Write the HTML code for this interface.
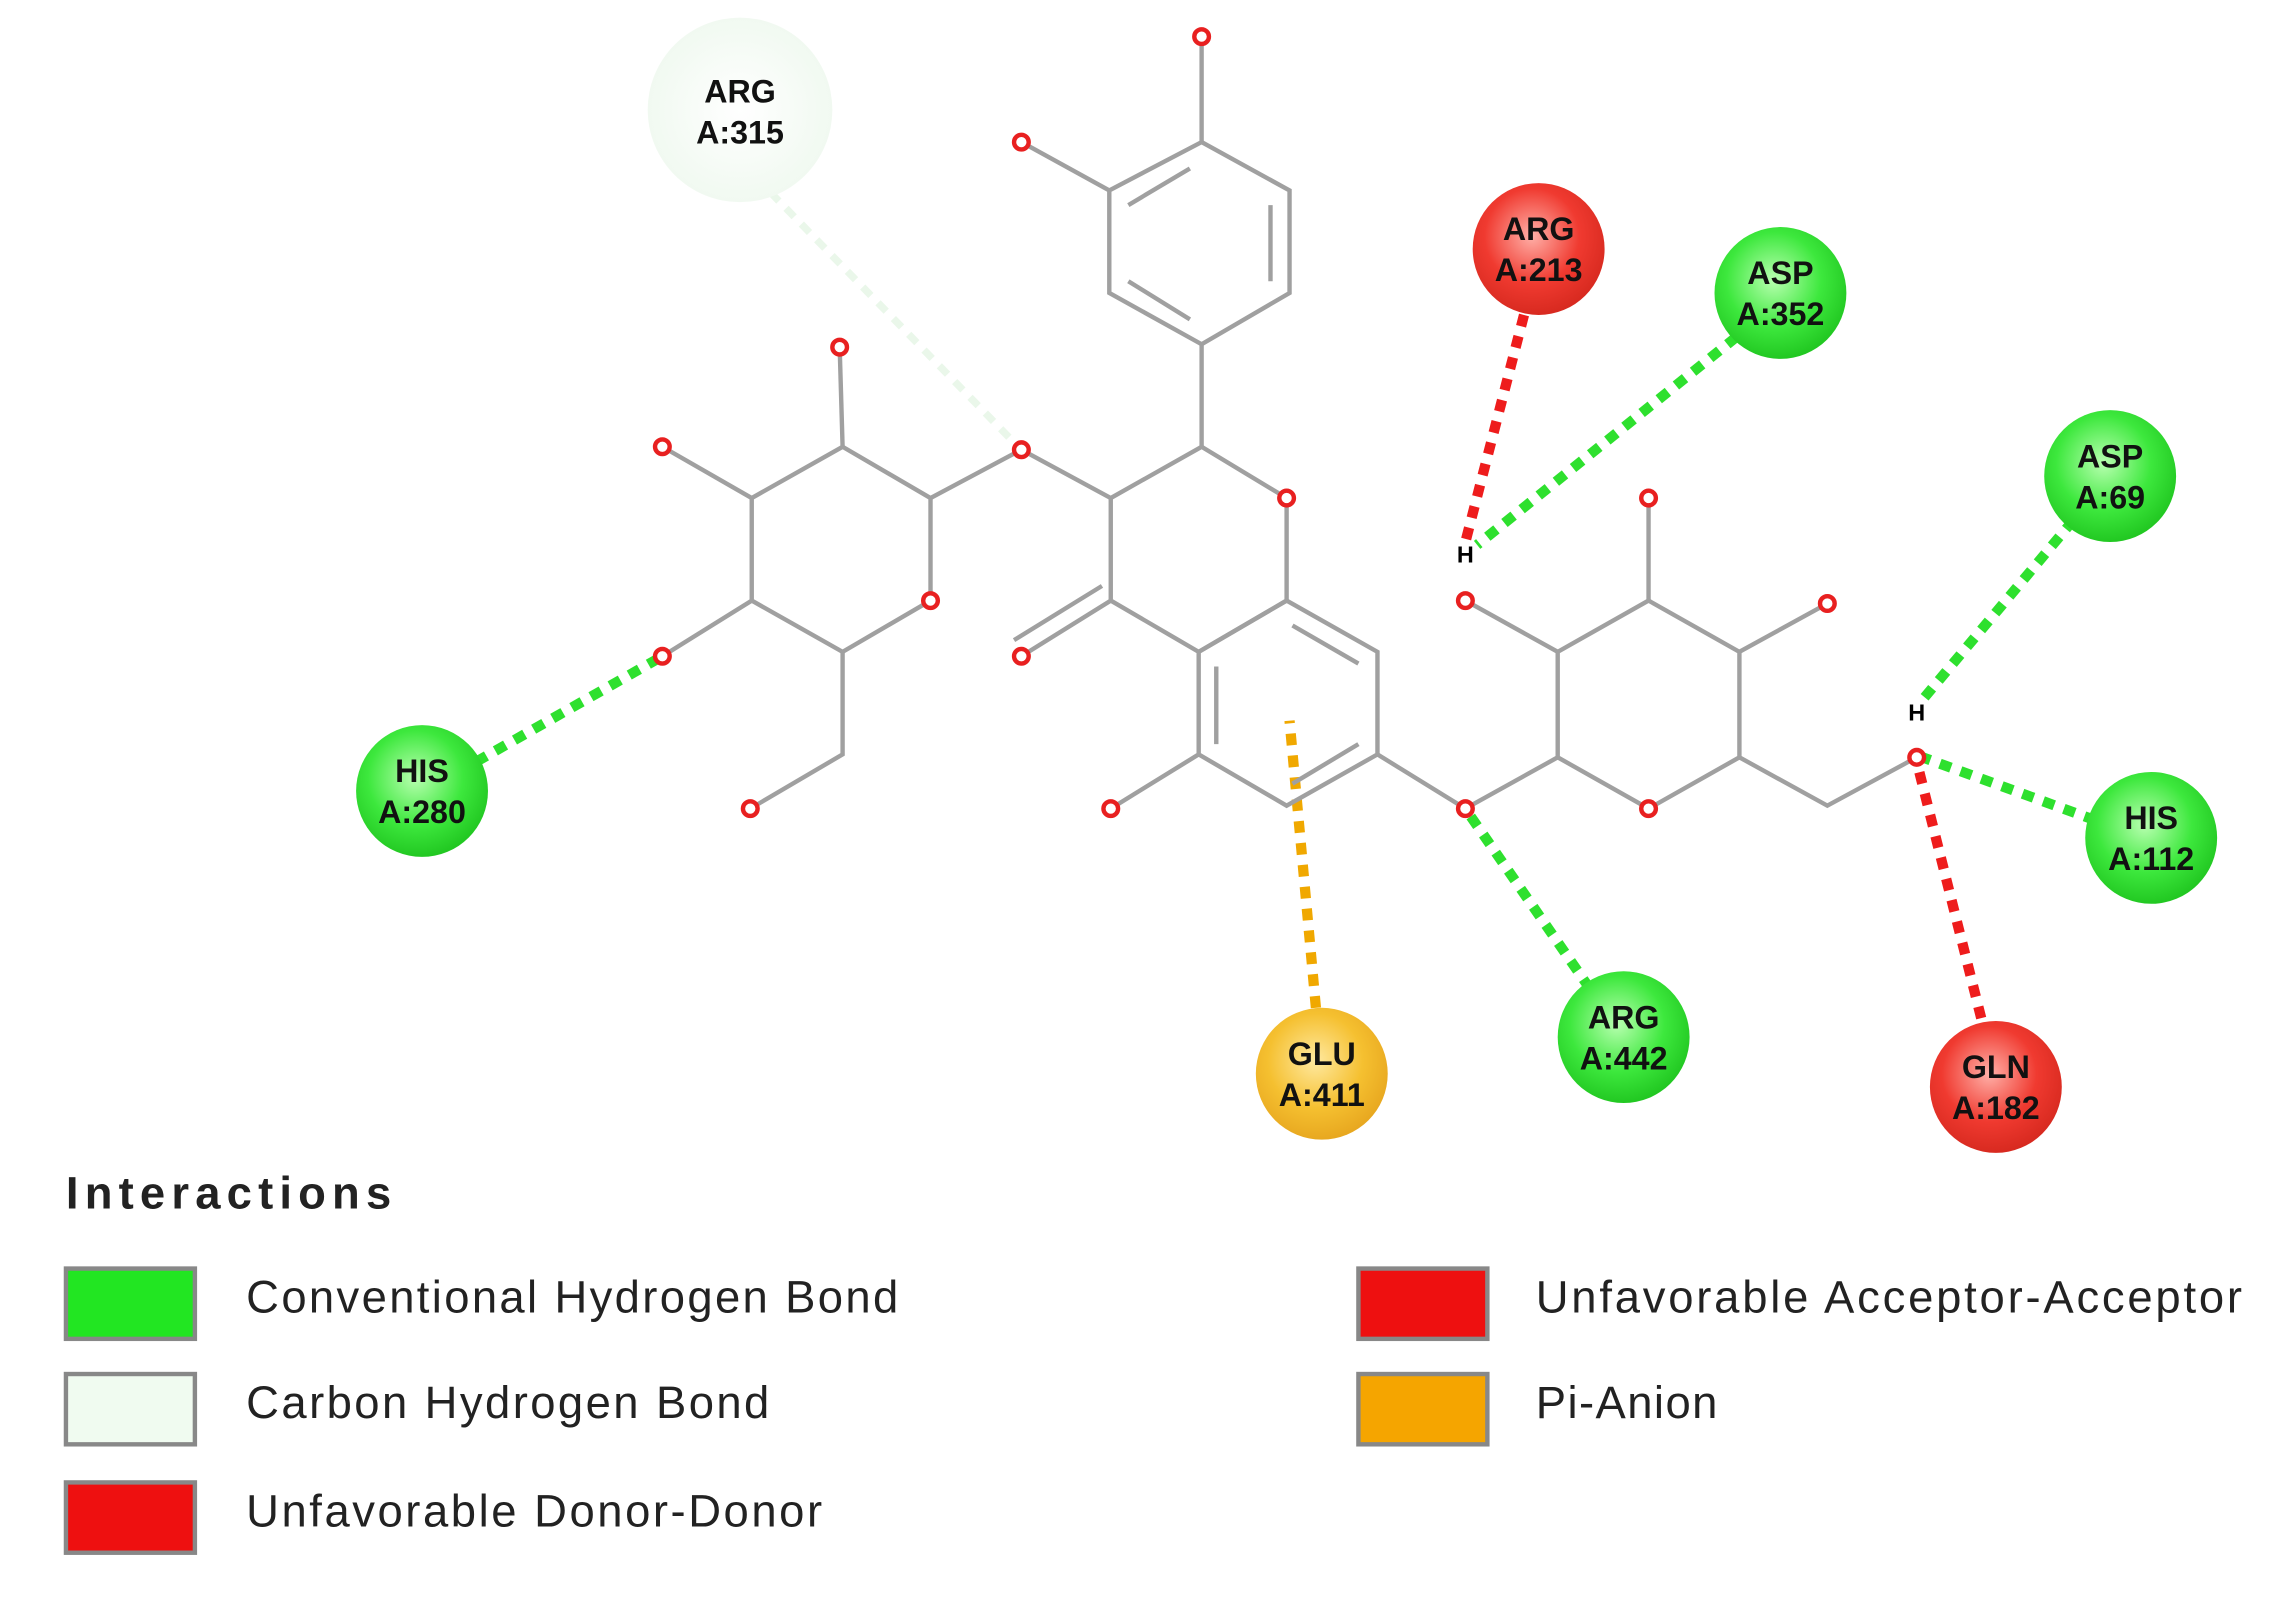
<!DOCTYPE html>
<html><head><meta charset="utf-8"><style>
html,body{margin:0;padding:0;background:#fff;}
svg{display:block;}
text{font-family:"Liberation Sans",sans-serif;}
.res{font-weight:bold;font-size:22px;fill:#111;text-anchor:middle;}
.leg{font-size:31px;fill:#222;}
</style></head><body>
<svg width="2286" height="1604" viewBox="0 0 1560 1095" preserveAspectRatio="none" xmlns="http://www.w3.org/2000/svg">
<defs>
<radialGradient id="gG" cx="45%" cy="40%" r="60%"><stop offset="0" stop-color="#b8ffb0"/><stop offset="0.6" stop-color="#3de83d"/><stop offset="1" stop-color="#22c822"/></radialGradient>
<radialGradient id="gR" cx="45%" cy="40%" r="60%"><stop offset="0" stop-color="#ffb0a8"/><stop offset="0.6" stop-color="#f03a30"/><stop offset="1" stop-color="#d82a20"/></radialGradient>
<radialGradient id="gY" cx="45%" cy="40%" r="60%"><stop offset="0" stop-color="#ffe9a0"/><stop offset="0.6" stop-color="#f5c030"/><stop offset="1" stop-color="#e8a820"/></radialGradient>
<radialGradient id="gP" cx="50%" cy="50%" r="60%"><stop offset="0" stop-color="#ffffff"/><stop offset="1" stop-color="#eef8ee"/></radialGradient>
</defs>
<rect width="1560" height="1095" fill="#fff"/>
<g fill="none" stroke-width="7" stroke-dasharray="8,7">
<line x1="505" y1="110" x2="690" y2="300" stroke="#eaf7ea" stroke-width="5"/>
<line x1="325" y1="520" x2="452" y2="448" stroke="#2ee02e"/>
<line x1="1040" y1="215" x2="1000" y2="370" stroke="#ee1c1c"/>
<line x1="1185" y1="230" x2="1008" y2="372" stroke="#2ee02e"/>
<line x1="1415" y1="355" x2="1310" y2="480" stroke="#2ee02e"/>
<line x1="1430" y1="560" x2="1312" y2="517" stroke="#2ee02e"/>
<line x1="1352" y1="695" x2="1308" y2="520" stroke="#ee1c1c"/>
<line x1="1085" y1="675" x2="1002" y2="555" stroke="#2ee02e"/>
<line x1="898" y1="688" x2="880" y2="492" stroke="#f0a800"/>
</g>
<g stroke="#a0a0a0" stroke-width="3" fill="none">
<polygon points="820,97 880,130 880,200 820,235 757,200 757,130"/>
<line x1="867" y1="140" x2="867" y2="192"/><line x1="770" y1="140" x2="812" y2="115"/><line x1="770" y1="192" x2="812" y2="218"/>
<line x1="820" y1="97" x2="820" y2="25"/><line x1="757" y1="130" x2="697" y2="97"/>
<line x1="820" y1="235" x2="820" y2="305"/>
<polyline points="878,340 820,305 758,340 758,410 818,445 878,410 878,340"/>
<line x1="758" y1="340" x2="697" y2="307"/>
<line x1="758" y1="410" x2="697" y2="448"/><line x1="752" y1="400" x2="692" y2="437"/>
<polygon points="818,445 878,410 940,445 940,515 878,550 818,515"/>
<line x1="830" y1="455" x2="830" y2="508"/><line x1="927" y1="453" x2="882" y2="427"/><line x1="927" y1="508" x2="882" y2="535"/>
<line x1="818" y1="515" x2="758" y2="552"/><line x1="940" y1="515" x2="1000" y2="552"/>
<polygon points="635,340 575,305 513,340 513,410 575,445 635,410"/>
<line x1="635" y1="340" x2="697" y2="307"/><line x1="575" y1="305" x2="573" y2="237"/>
<line x1="513" y1="340" x2="452" y2="305"/><line x1="513" y1="410" x2="452" y2="448"/>
<polyline points="575,445 575,515 512,552"/>
<polygon points="1063,517 1063,445 1125,410 1187,445 1187,517 1125,552"/>
<line x1="1000" y1="552" x2="1063" y2="517"/><line x1="1063" y1="445" x2="1000" y2="410"/>
<line x1="1125" y1="410" x2="1125" y2="340"/><line x1="1187" y1="445" x2="1247" y2="412"/>
<polyline points="1187,517 1247,550 1308,517"/>
</g>
<g stroke="#e82020" stroke-width="3" fill="#fff">
<circle cx="820" cy="25" r="5"/><circle cx="697" cy="97" r="5"/><circle cx="878" cy="340" r="5"/>
<circle cx="697" cy="307" r="5"/><circle cx="697" cy="448" r="5"/><circle cx="758" cy="552" r="5"/>
<circle cx="1000" cy="552" r="5"/><circle cx="573" cy="237" r="5"/><circle cx="452" cy="305" r="5"/>
<circle cx="452" cy="448" r="5"/><circle cx="512" cy="552" r="5"/><circle cx="635" cy="410" r="5"/>
<circle cx="1000" cy="410" r="5"/><circle cx="1125" cy="340" r="5"/><circle cx="1247" cy="412" r="5"/>
<circle cx="1125" cy="552" r="5"/><circle cx="1308" cy="517" r="5"/>
</g>
<text x="1000" y="384" font-size="16" font-weight="bold" text-anchor="middle">H</text>
<text x="1308" y="492" font-size="16" font-weight="bold" text-anchor="middle">H</text>
<g>
<circle cx="505" cy="75" r="63" fill="url(#gP)"/><text class="res" x="505" y="70">ARG</text><text class="res" x="505" y="98">A:315</text>
<circle cx="1050" cy="170" r="45" fill="url(#gR)"/><text class="res" x="1050" y="164">ARG</text><text class="res" x="1050" y="192">A:213</text>
<circle cx="1215" cy="200" r="45" fill="url(#gG)"/><text class="res" x="1215" y="194">ASP</text><text class="res" x="1215" y="222">A:352</text>
<circle cx="1440" cy="325" r="45" fill="url(#gG)"/><text class="res" x="1440" y="319">ASP</text><text class="res" x="1440" y="347">A:69</text>
<circle cx="288" cy="540" r="45" fill="url(#gG)"/><text class="res" x="288" y="534">HIS</text><text class="res" x="288" y="562">A:280</text>
<circle cx="1468" cy="572" r="45" fill="url(#gG)"/><text class="res" x="1468" y="566">HIS</text><text class="res" x="1468" y="594">A:112</text>
<circle cx="902" cy="733" r="45" fill="url(#gY)"/><text class="res" x="902" y="727">GLU</text><text class="res" x="902" y="755">A:411</text>
<circle cx="1108" cy="708" r="45" fill="url(#gG)"/><text class="res" x="1108" y="702">ARG</text><text class="res" x="1108" y="730">A:442</text>
<circle cx="1362" cy="742" r="45" fill="url(#gR)"/><text class="res" x="1362" y="736">GLN</text><text class="res" x="1362" y="764">A:182</text>
</g>
<text x="45" y="825" font-size="31" font-weight="bold" fill="#222" textLength="222">Interactions</text>
<g stroke="#888" stroke-width="3">
<rect x="45" y="866" width="88" height="48" fill="#22e622"/>
<rect x="45" y="938" width="88" height="48" fill="#f0fbf0"/>
<rect x="45" y="1012" width="88" height="48" fill="#ee1010"/>
<rect x="927" y="866" width="88" height="48" fill="#ee1010"/>
<rect x="927" y="938" width="88" height="48" fill="#f5a500"/>
</g>
<text class="leg" x="168" y="896" textLength="445">Conventional Hydrogen Bond</text>
<text class="leg" x="168" y="968" textLength="357">Carbon Hydrogen Bond</text>
<text class="leg" x="168" y="1042" textLength="393">Unfavorable Donor-Donor</text>
<text class="leg" x="1048" y="896" textLength="482">Unfavorable Acceptor-Acceptor</text>
<text class="leg" x="1048" y="968" textLength="124">Pi-Anion</text>
</svg>
</body></html>
